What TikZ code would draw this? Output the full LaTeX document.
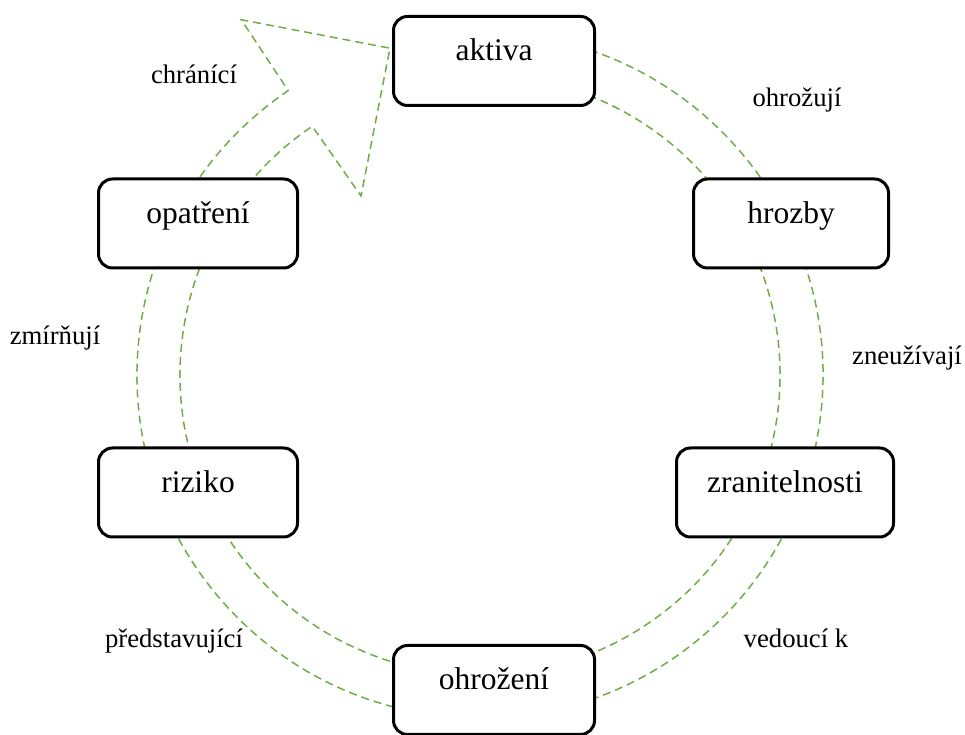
\documentclass[tikz,border=0pt]{standalone}
\usepackage{fontspec}
\setmainfont{Liberation Serif}
\usetikzlibrary{calc}
\definecolor{ringgreen}{HTML}{70AD47}
\tikzset{
  box/.style={draw, line width=3pt, rounded corners=14pt, fill=white, inner sep=0pt,
    text height=44.5pt, text depth=44.5pt, minimum width=201pt,
    font=\fontsize{31.5}{36}\selectfont},
  lbl/.style={anchor=base, font=\fontsize{26.7}{32}\selectfont},
  ring/.style={draw=ringgreen, line width=1.5pt, dash pattern=on 8pt off 5pt}
}

\begin{document}
\begin{tikzpicture}[x=1pt, y=1pt]
      \useasboundingbox (0, 0) rectangle (965, 735);
      \coordinate (c) at (480, 360);

      % cycle arrow
      \draw[ring] ($(c)+(80:343pt)$) arc[start angle=80, end angle=-236, radius=343pt]
        -- ($(c)+(123.9:428pt)$) -- ($(c)+(105.4:339pt)$) -- ($(c)+(123.6:215pt)$)
        -- ($(c)+(124:300pt)$) arc[start angle=-236, end angle=80, radius=300pt] -- cycle;

      \node[box] (aktiva) at (494, 674) {aktiva};
      \node[box, minimum width=195pt] (hrozby) at (791, 511.5) {hrozby};
      \node[box, minimum width=217pt] (zranit) at (785, 242.5) {zranitelnosti};
      \node[box] (ohrozeni) at (494, 45) {ohrožení};
      \node[box, minimum width=199pt] (riziko) at (198, 242.5) {riziko};
      \node[box, minimum width=199pt] (opatreni) at (198, 511.5) {opatření};

      \node[lbl] (chrani) at (194, 651) {chránící};
      \node[lbl] (ohrozuji) at (797, 628) {ohrožují};
      \node[lbl] (zneuzivaji) at (907, 370) {zneužívají};
      \node[lbl] (zmirnuji) at (55, 390) {zmírňují};
      \node[lbl] (predstavujici) at (174, 87) {představující};
      \node[lbl] (vedouci) at (796, 87) {vedoucí k};
\end{tikzpicture}
\end{document}
